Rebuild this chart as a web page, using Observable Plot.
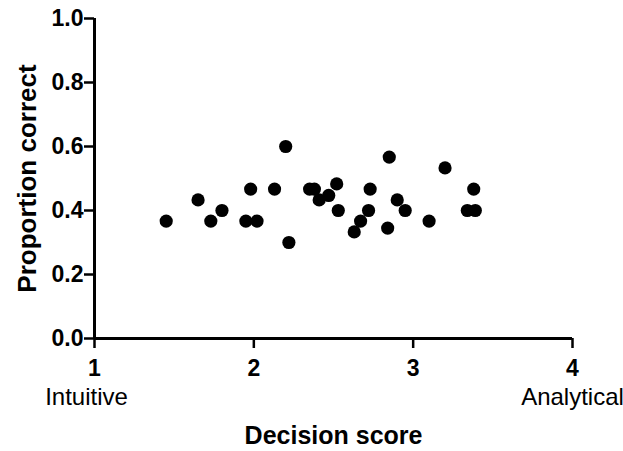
<!DOCTYPE html>
<html>
<head>
<meta charset="utf-8">
<script src="https://cdn.jsdelivr.net/npm/d3@7"></script>
<script src="https://cdn.jsdelivr.net/npm/@observablehq/plot@0.6"></script>
<style>
  html, body { margin: 0; padding: 0; background: #fff; }
  #chart svg { display: block; }
</style>
</head>
<body>
<div id="chart"></div>
<script>
const decisionScore = [1.45, 1.65, 1.73, 1.80, 1.95, 1.98, 2.02, 2.13, 2.20, 2.22, 2.35, 2.38, 2.41, 2.47, 2.52, 2.53, 2.63, 2.67, 2.72, 2.73, 2.84, 2.85, 2.90, 2.95, 3.10, 3.20, 3.34, 3.38, 3.39];
const proportionCorrect = [0.367, 0.433, 0.367, 0.400, 0.367, 0.467, 0.367, 0.467, 0.600, 0.300, 0.467, 0.467, 0.433, 0.447, 0.483, 0.400, 0.333, 0.367, 0.400, 0.467, 0.345, 0.567, 0.433, 0.400, 0.367, 0.533, 0.400, 0.467, 0.400];
const xTicks = [1, 2, 3, 4];
const yTicks = [0, 0.2, 0.4, 0.6, 0.8, 1.0];
const endLabels = ["Intuitive", "Analytical"];
const endLabelX = [1, 4];
const xTitle = "Decision score";
const yTitle = "Proportion correct";

const points = decisionScore.map((x, i) => ({x, y: proportionCorrect[i]}));
const ends = endLabels.map((t, i) => ({t, x: endLabelX[i]}));
const font = "'Liberation Sans', Arial, Helvetica, sans-serif";

const chart = Plot.plot({
  width: 623,
  height: 451,
  marginLeft: 94,
  marginRight: 51,
  marginTop: 18,
  marginBottom: 113,
  style: {fontFamily: font, fontSize: "23px", fontWeight: "bold", color: "#000", background: "#fff", overflow: "visible"},
  x: {domain: [1, 4]},
  y: {domain: [0, 1]},
  marks: [
    Plot.axisY({ticks: yTicks, tickFormat: d3.format(".1f"), tickSize: 10, tickPadding: 1, strokeWidth: 2.5, fontSize: 23, fontWeight: "bold", label: null}),
    Plot.axisX({ticks: xTicks, tickFormat: d3.format("d"), tickSize: 10, tickPadding: 11, strokeWidth: 2.5, fontSize: 23, fontWeight: "bold", label: null}),
    Plot.ruleX([1], {y1: 0, y2: 1, strokeWidth: 3}),
    Plot.ruleY([0], {x1: 1, x2: 4, strokeWidth: 3}),
    Plot.dot(points, {x: "x", y: "y", r: 6.6, fill: "#000", stroke: null}),
    Plot.text(ends, {filter: (d, i) => i === 0, x: "x", text: "t", frameAnchor: "bottom", dy: 59, dx: -8, textAnchor: "middle", fontSize: 24, fontWeight: "normal", lineAnchor: "middle"}),
    Plot.text(ends, {filter: (d, i) => i === 1, x: "x", text: "t", frameAnchor: "bottom", dy: 59, dx: 0, textAnchor: "middle", fontSize: 24, fontWeight: "normal", lineAnchor: "middle"}),
    Plot.text([xTitle], {frameAnchor: "bottom", dy: 97, textAnchor: "middle", fontSize: 25, fontWeight: "bold", lineAnchor: "middle"}),
    Plot.text([yTitle], {frameAnchor: "left", dx: -67, rotate: -90, textAnchor: "middle", fontSize: 26, fontWeight: "bold", lineAnchor: "middle"})
  ]
});
document.getElementById("chart").appendChild(chart);
</script>
</body>
</html>
